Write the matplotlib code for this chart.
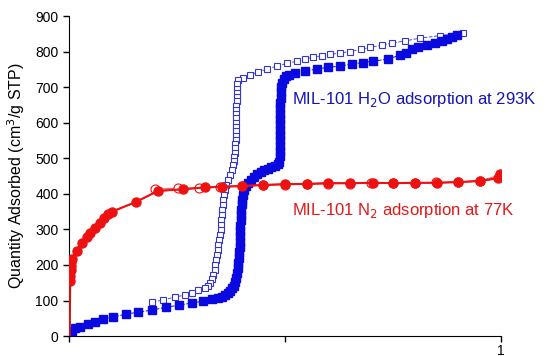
import matplotlib
matplotlib.use("Agg")
from matplotlib import pyplot as plt

plt.rcParams['font.family'] = ['Liberation Sans', 'DejaVu Sans']

# H2O adsorption (filled squares)
h2o_ads_x = [0.007, 0.014, 0.025, 0.044, 0.060, 0.079, 0.102, 0.132, 0.160, 0.192, 0.225, 0.255, 0.285, 0.310,
             0.331, 0.345, 0.355, 0.362, 0.368, 0.373, 0.377, 0.381, 0.384, 0.387, 0.389, 0.391, 0.392, 0.393,
             0.394, 0.395, 0.396, 0.396, 0.397, 0.397, 0.398, 0.398, 0.399, 0.400, 0.401, 0.403, 0.406, 0.410,
             0.415, 0.421, 0.428, 0.436, 0.444, 0.452, 0.460, 0.468, 0.476, 0.483, 0.487, 0.488, 0.488, 0.488,
             0.488, 0.488, 0.488, 0.489, 0.489, 0.489, 0.489, 0.489, 0.490, 0.490, 0.491, 0.493, 0.497, 0.502,
             0.510, 0.523, 0.546, 0.574, 0.600, 0.627, 0.655, 0.680, 0.704, 0.738, 0.766, 0.780, 0.794, 0.808,
             0.829, 0.846, 0.863, 0.875, 0.887, 0.898]
h2o_ads_y = [14, 22, 25, 34, 39, 48, 53, 62, 67, 73, 81, 87, 93, 98,
             103, 107, 111, 116, 121, 127, 134, 142, 152, 163, 176, 190, 205, 220,
             235, 250, 265, 280, 295, 310, 325, 340, 355, 370, 384, 397, 410, 421,
             431, 440, 448, 455, 461, 466, 471, 475, 479, 484, 490, 505, 520, 535,
             550, 565, 580, 595, 610, 625, 640, 655, 670, 685, 700, 712, 722, 730,
             735, 740, 745, 751, 756, 759, 765, 769, 773, 779, 790, 797, 807, 812,
             818, 824, 830, 836, 841, 846]

# H2O desorption (open squares)
h2o_des_x = [0.912, 0.859, 0.813, 0.778, 0.748, 0.724, 0.697, 0.675, 0.650, 0.627, 0.604, 0.585, 0.565, 0.546,
             0.528, 0.505, 0.481, 0.458, 0.437, 0.419, 0.403, 0.392, 0.389, 0.388, 0.388, 0.388, 0.388, 0.387,
             0.387, 0.387, 0.387, 0.387, 0.386, 0.386, 0.386, 0.386, 0.385, 0.385, 0.384, 0.383, 0.381, 0.379,
             0.377, 0.373, 0.368, 0.364, 0.361, 0.359, 0.357, 0.356, 0.355, 0.354, 0.353, 0.352, 0.351, 0.349,
             0.347, 0.346, 0.345, 0.343, 0.341, 0.339, 0.337, 0.334, 0.331, 0.327, 0.321, 0.315, 0.299, 0.285,
             0.269, 0.245, 0.218, 0.192]
h2o_des_y = [852, 845, 838, 830, 824, 818, 812, 806, 800, 796, 792, 788, 784, 779,
             773, 767, 759, 751, 742, 734, 727, 720, 708, 696, 684, 672, 660, 648,
             636, 624, 612, 600, 588, 576, 564, 552, 540, 528, 516, 504, 492, 480,
             467, 453, 439, 425, 410, 396, 382, 368, 354, 340, 326, 312, 298, 284,
             270, 256, 242, 228, 214, 200, 186, 172, 160, 149, 140, 134, 129, 121,
             115, 110, 101, 96]

# N2 adsorption (filled circles)
n2_ads_x = [0.0005, 0.0005, 0.0007, 0.001, 0.001, 0.001, 0.001, 0.0012, 0.0015, 0.002, 0.003, 0.004, 0.005,
            0.006, 0.008, 0.018, 0.030, 0.042, 0.049, 0.060, 0.072, 0.081, 0.090, 0.100, 0.155, 0.206, 0.264,
            0.315, 0.354, 0.400, 0.449, 0.500, 0.551, 0.600, 0.650, 0.704, 0.750, 0.801, 0.852, 0.900, 0.950,
            0.993, 0.997]
n2_ads_y = [2, 10, 20, 40, 60, 80, 100, 120, 140, 155, 170, 185, 198,
            208, 216, 240, 261, 278, 290, 304, 318, 332, 343, 350, 377, 408, 413,
            418, 420, 422, 425, 427, 428, 430, 430, 431, 430, 431, 431, 433, 436,
            444, 456]

# N2 desorption (open circles)
n2_des_x = [0.997, 0.950, 0.900, 0.850, 0.800, 0.750, 0.700, 0.650, 0.600, 0.550, 0.500, 0.450, 0.400,
            0.350, 0.300, 0.252, 0.200]
n2_des_y = [452, 437, 433, 432, 431, 430, 430, 429, 428, 427, 426, 424, 421,
            419, 416, 416, 413]

x_ticks = [0, 0.5, 1]
x_tick_labels = ['', '', '1']
y_ticks = [0, 100, 200, 300, 400, 500, 600, 700, 800, 900]

blue = '#0a0ae0'
red = '#ee1111'

fig = plt.figure(figsize=(5.46, 3.56), dpi=100)
ax = fig.add_axes([0.126, 0.056, 0.792, 0.899])

ax.plot(n2_des_x, n2_des_y, '-', color='#f06060', lw=0.8, marker='o', ms=6.5,
        mfc='white', mec=red, mew=0.8, zorder=2)
ax.plot(h2o_des_x, h2o_des_y, '--', color='#5050d8', lw=0.7, marker='s', ms=5,
        mfc='white', mec='#3535d0', mew=0.8, zorder=3)
ax.plot(h2o_ads_x, h2o_ads_y, '--', color=blue, lw=0.7, marker='s', ms=5.3,
        mfc=blue, mec=blue, zorder=4)
n2_marks = [i for i, v in enumerate(n2_ads_y) if v >= 150]
ax.plot(n2_ads_x, n2_ads_y, '-', color=red, lw=1.0, zorder=5)
ax.plot(n2_ads_x, n2_ads_y, 'none', color=red, marker='o', ms=6.5,
        mfc=red, mec=red, markevery=n2_marks, zorder=5)
ax.plot([0.0005, 0.0015], [0, 140], '-', color='#d01515', lw=2.5, zorder=5)

ax.text(0.517, 664, 'MIL-101 H$_2$O adsorption at 293K', color='#1414b8', fontsize=12,
        va='center', ha='left')
ax.text(0.517, 352, 'MIL-101 N$_2$ adsorption at 77K', color='#e01818', fontsize=12,
        va='center', ha='left')

ax.set_xlim(0, 1)
ax.set_ylim(0, 900)
ax.set_xticks(x_ticks)
ax.set_xticklabels(x_tick_labels)
ax.set_yticks(y_ticks)
ax.tick_params(labelsize=10, length=4, width=1)
ax.tick_params(axis='x', pad=2)
ax.set_ylabel('Quantity Adsorbed (cm$^3$/g STP)', fontsize=11.5, labelpad=6)
ax.spines['top'].set_visible(False)
ax.spines['right'].set_visible(False)

fig.savefig('out.png', dpi=100)
